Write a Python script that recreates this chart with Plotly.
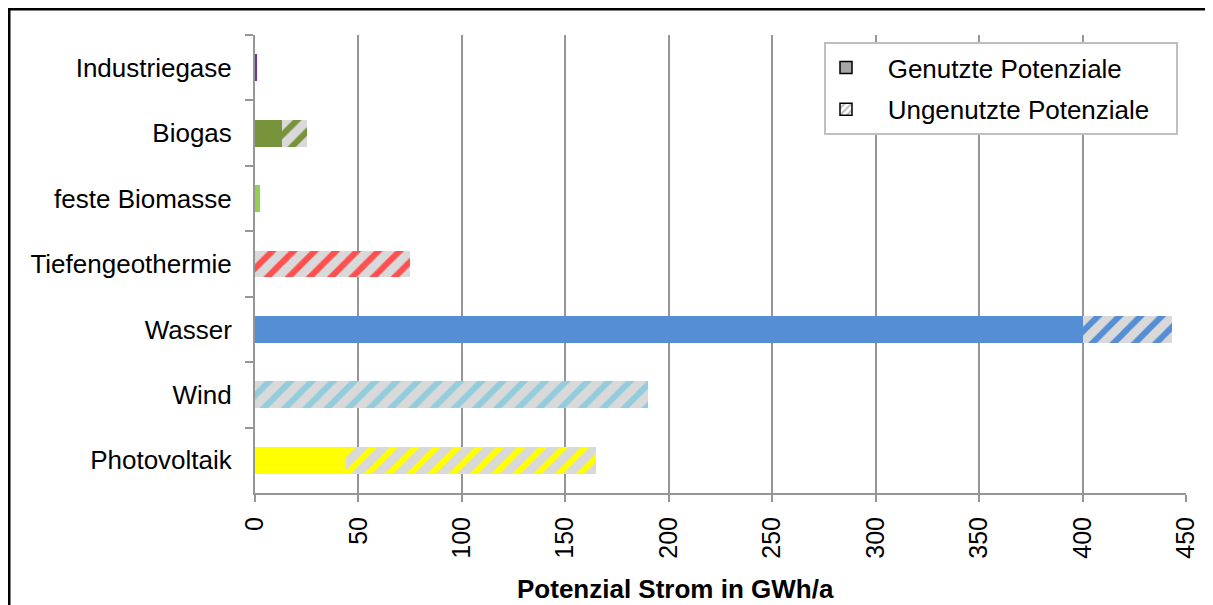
import plotly.graph_objects as go

# ---- data (top to bottom as displayed) ----
categories = ["Industriegase", "Biogas", "feste Biomasse", "Tiefengeothermie",
              "Wasser", "Wind", "Photovoltaik"]
genutzt = [1, 13, 2.5, 0, 400, 0, 44]          # GWh/a used
ungenutzt = [0, 12, 0, 75, 43, 190, 121]       # GWh/a unused
colors = ["#7030a0", "#77933c", "#92d050", "#ff5050", "#558ed5", "#93cddd", "#ffff00"]
x_ticks = [0, 50, 100, 150, 200, 250, 300, 350, 400, 450]

FONT = "Liberation Sans, Arial, sans-serif"
OFF = 8  # page body margin
W, H = 1213 - OFF, 605 - OFF
ML = 255 - OFF
MR = W - (1186 - OFF)
MT = 35 - OFF
MB = H - (493 - OFF)
PW, PH = W - ML - MR, H - MT - MB

def px_x(p):
    return (p - OFF - ML) / PW

def px_y(p):
    return (H - MB - (p - OFF)) / PH

NB = "\u00a0\u00a0\u00a0"

fig = go.Figure()

fig.add_trace(go.Bar(
    y=categories, x=genutzt, orientation="h", name="Genutzte Potenziale",
    marker=dict(color=colors, line=dict(width=0)), showlegend=False,
))
fig.add_trace(go.Bar(
    y=categories, x=ungenutzt, orientation="h", name="Ungenutzte Potenziale",
    marker=dict(color="#d9d9d9", line=dict(width=0),
                pattern=dict(shape="/", bgcolor="#d9d9d9", fgcolor=colors,
                             size=15, solidity=0.4, fillmode="replace")),
    showlegend=False,
))

# legend-only entries
fig.add_trace(go.Bar(
    y=[None], x=[None], orientation="h", name=NB + "Genutzte Potenziale",
    marker=dict(color="#a6a6a6", line=dict(color="black", width=1.5)),
    legendgroup="g1",
))
fig.add_trace(go.Bar(
    y=[None], x=[None], orientation="h", name=NB + "Ungenutzte Potenziale" + NB,
    marker=dict(color="white", line=dict(color="black", width=1.5),
                pattern=dict(shape="/", bgcolor="white", fgcolor="#bfbfbf",
                             size=6, solidity=0.4, fillmode="replace")),
    legendgroup="g2",
))

fig.update_layout(
    width=W, height=H,
    margin=dict(l=ML, r=MR, t=MT, b=MB, pad=0),
    barmode="stack", bargap=0.59,
    paper_bgcolor="white", plot_bgcolor="white",
    font=dict(family=FONT, size=26, color="black"),
    showlegend=True,
    legend=dict(
        x=px_x(824), y=px_y(42), xanchor="left", yanchor="top",
        bgcolor="white", bordercolor="#bfbfbf", borderwidth=2,
        font=dict(family=FONT, size=26, color="black"),
        traceorder="grouped", tracegroupgap=5, itemwidth=30,
    ),
    xaxis=dict(
        range=[0, 450], tickvals=x_ticks, ticktext=[str(v) for v in x_ticks],
        tickangle=-90, showgrid=True, gridcolor="#969696", gridwidth=2,
        showline=True, linecolor="#969696", linewidth=2,
        ticks="outside", ticklen=7, tickwidth=2, tickcolor="#969696",
        ticklabelstandoff=5,
        tickfont=dict(family=FONT, size=25, color="black"),
        zeroline=False, fixedrange=True,
    ),
    yaxis=dict(
        type="category", categoryorder="array", categoryarray=categories,
        autorange="reversed", showgrid=False,
        showline=True, linecolor="#969696", linewidth=2,
        ticks="outside", tickson="boundaries", ticklen=8, tickwidth=2,
        tickcolor="#969696", ticklabelstandoff=16,
        tickfont=dict(family=FONT, size=26, color="black"),
        zeroline=False, fixedrange=True,
    ),
    annotations=[dict(
        text="<b>Potenzial Strom in GWh/a</b>", xref="paper", yref="paper",
        x=px_x(675), y=px_y(589), xanchor="center", yanchor="middle",
        showarrow=False, font=dict(family=FONT, size=26, color="black"),
    )],
    shapes=[
        dict(type="line", xref="paper", yref="paper",
             x0=px_x(9.25), x1=px_x(9.25), y0=px_y(8), y1=px_y(700),
             line=dict(color="black", width=2.5)),
        dict(type="line", xref="paper", yref="paper",
             x0=px_x(8), x1=px_x(1300), y0=px_y(9.25), y1=px_y(9.25),
             line=dict(color="black", width=2.5)),
    ],
)

fig.write_html("out.html")
